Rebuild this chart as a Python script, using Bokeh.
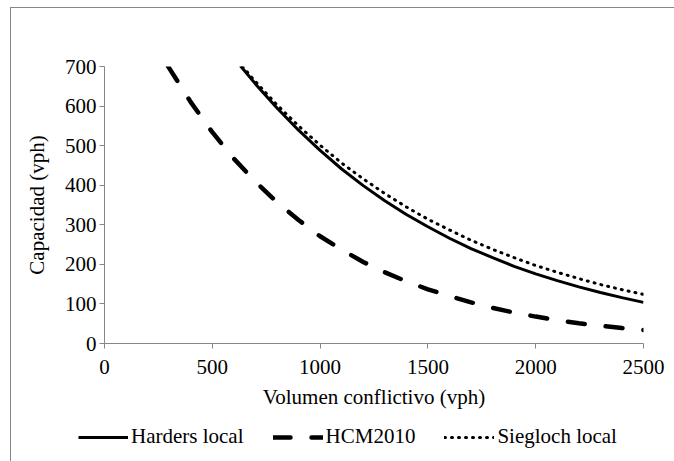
from bokeh.plotting import figure
from bokeh.layouts import column
from bokeh.models import (Range1d, FixedTicker, Legend, LegendItem, InlineStyleSheet)
from bokeh.embed import file_html
from bokeh.resources import INLINE

# Data
x_ticks = [0, 500, 1000, 1500, 2000, 2500]
y_ticks = [0, 100, 200, 300, 400, 500, 600, 700]

harders_x = [630, 700, 800, 900, 1000, 1100, 1200, 1300, 1400, 1500, 1600,
             1700, 1800, 1900, 2000, 2100, 2200, 2300, 2400, 2500]
harders_y = [702, 656, 595, 539, 488, 441, 399, 361, 326, 295, 266,
             240, 217, 195, 176, 159, 143, 129, 116, 104]

hcm_x = [295, 300, 400, 500, 600, 700, 800, 900, 1000, 1100, 1200, 1300,
         1400, 1500, 1600, 1700, 1800, 1900, 2000, 2100, 2200, 2300, 2400, 2500]
hcm_y = [700, 696, 610, 534, 467, 409, 357, 312, 271, 237, 206, 180,
         157, 137, 120, 104, 90, 78, 68, 59, 51, 45, 39, 34]

siegloch_x = [640, 700, 800, 900, 1000, 1100, 1200, 1300, 1400, 1500, 1600,
              1700, 1800, 1900, 2000, 2100, 2200, 2300, 2400, 2500]
siegloch_y = [700, 662, 603, 550, 501, 456, 416, 379, 345, 314, 287,
              261, 238, 217, 197, 180, 164, 149, 136, 124]

labels = ["Harders local", "HCM2010", "Siegloch local"]

FONT = "Liberation Serif"
FSIZE = "21px"
GRAY = "#868686"

border_css = InlineStyleSheet(css="""
:host::before {
  content: "";
  position: absolute;
  left: 10px; top: 7px; width: 664px; height: 454px;
  border-left: 1px solid #868686;
  border-top: 1px solid #868686;
  box-sizing: border-box;
  pointer-events: none;
  z-index: 10;
}
""")

styles = dict(
    harders=dict(line_color="black", line_width=3),
    hcm=dict(line_color="black", line_width=4.5, line_dash="17 21", line_cap="round"),
    siegloch=dict(line_color="black", line_width=3, line_dash="1 6", line_cap="round"),
)

p = figure(width=674, height=420, output_backend="svg", toolbar_location=None,
           x_range=Range1d(0, 2500), y_range=Range1d(0, 700),
           min_border_left=104, min_border_right=31,
           min_border_top=66, min_border_bottom=77,
           stylesheets=[border_css])
p.outline_line_color = None
p.grid.visible = False
p.background_fill_color = "white"
p.border_fill_color = "white"

for ax, ticks in ((p.xaxis[0], x_ticks), (p.yaxis[0], y_ticks)):
    ax.ticker = FixedTicker(ticks=ticks)
    ax.axis_line_color = GRAY
    ax.major_tick_line_color = GRAY
    ax.major_tick_out = 5
    ax.major_tick_in = 0
    ax.minor_tick_line_color = None
    ax.major_label_text_font = FONT
    ax.major_label_text_font_size = FSIZE
    ax.major_label_text_color = "black"
    ax.axis_label_text_font = FONT
    ax.axis_label_text_font_size = FSIZE
    ax.axis_label_text_font_style = "normal"
    ax.axis_label_text_color = "black"

p.xaxis.major_label_standoff = 11
p.yaxis.major_label_standoff = 3
p.xaxis.axis_label = "Volumen conflictivo (vph)"
p.yaxis.axis_label = "Capacidad (vph)"
p.xaxis.axis_label_standoff = 8
p.yaxis.axis_label_standoff = 13

p.line(harders_x, harders_y, **styles["harders"])
p.line(hcm_x, hcm_y, **styles["hcm"])
p.line(siegloch_x, siegloch_y, **styles["siegloch"])

# Legend strip below the plot (its lines lie outside its ranges, only the legend shows)
q = figure(width=674, height=41, output_backend="svg", toolbar_location=None,
           x_range=Range1d(0, 1), y_range=Range1d(0, 1),
           x_axis_type=None, y_axis_type=None, min_border=0)
q.outline_line_color = None
q.grid.visible = False
q.border_fill_color = "white"
q.background_fill_color = "white"

for fig in (p, q):
    if "frame_align" in fig.properties():
        fig.frame_align = False

k1 = q.line(harders_x, harders_y, **styles["harders"])
k2 = q.line(hcm_x, hcm_y, **styles["hcm"])
k3 = q.line(siegloch_x, siegloch_y, **styles["siegloch"])

legend = Legend(items=[LegendItem(label=labels[0], renderers=[k1]),
                       LegendItem(label=labels[1], renderers=[k2]),
                       LegendItem(label=labels[2], renderers=[k3])],
                orientation="horizontal", location=(78, 12),
                glyph_width=50, glyph_height=20, label_standoff=3, spacing=29,
                padding=0, margin=0, border_line_color=None,
                background_fill_alpha=0,
                label_text_font=FONT, label_text_font_size=FSIZE,
                label_text_color="black")
q.add_layout(legend, "center")

layout = column(p, q, spacing=0)
open("out.html", "w").write(file_html(layout, INLINE))
